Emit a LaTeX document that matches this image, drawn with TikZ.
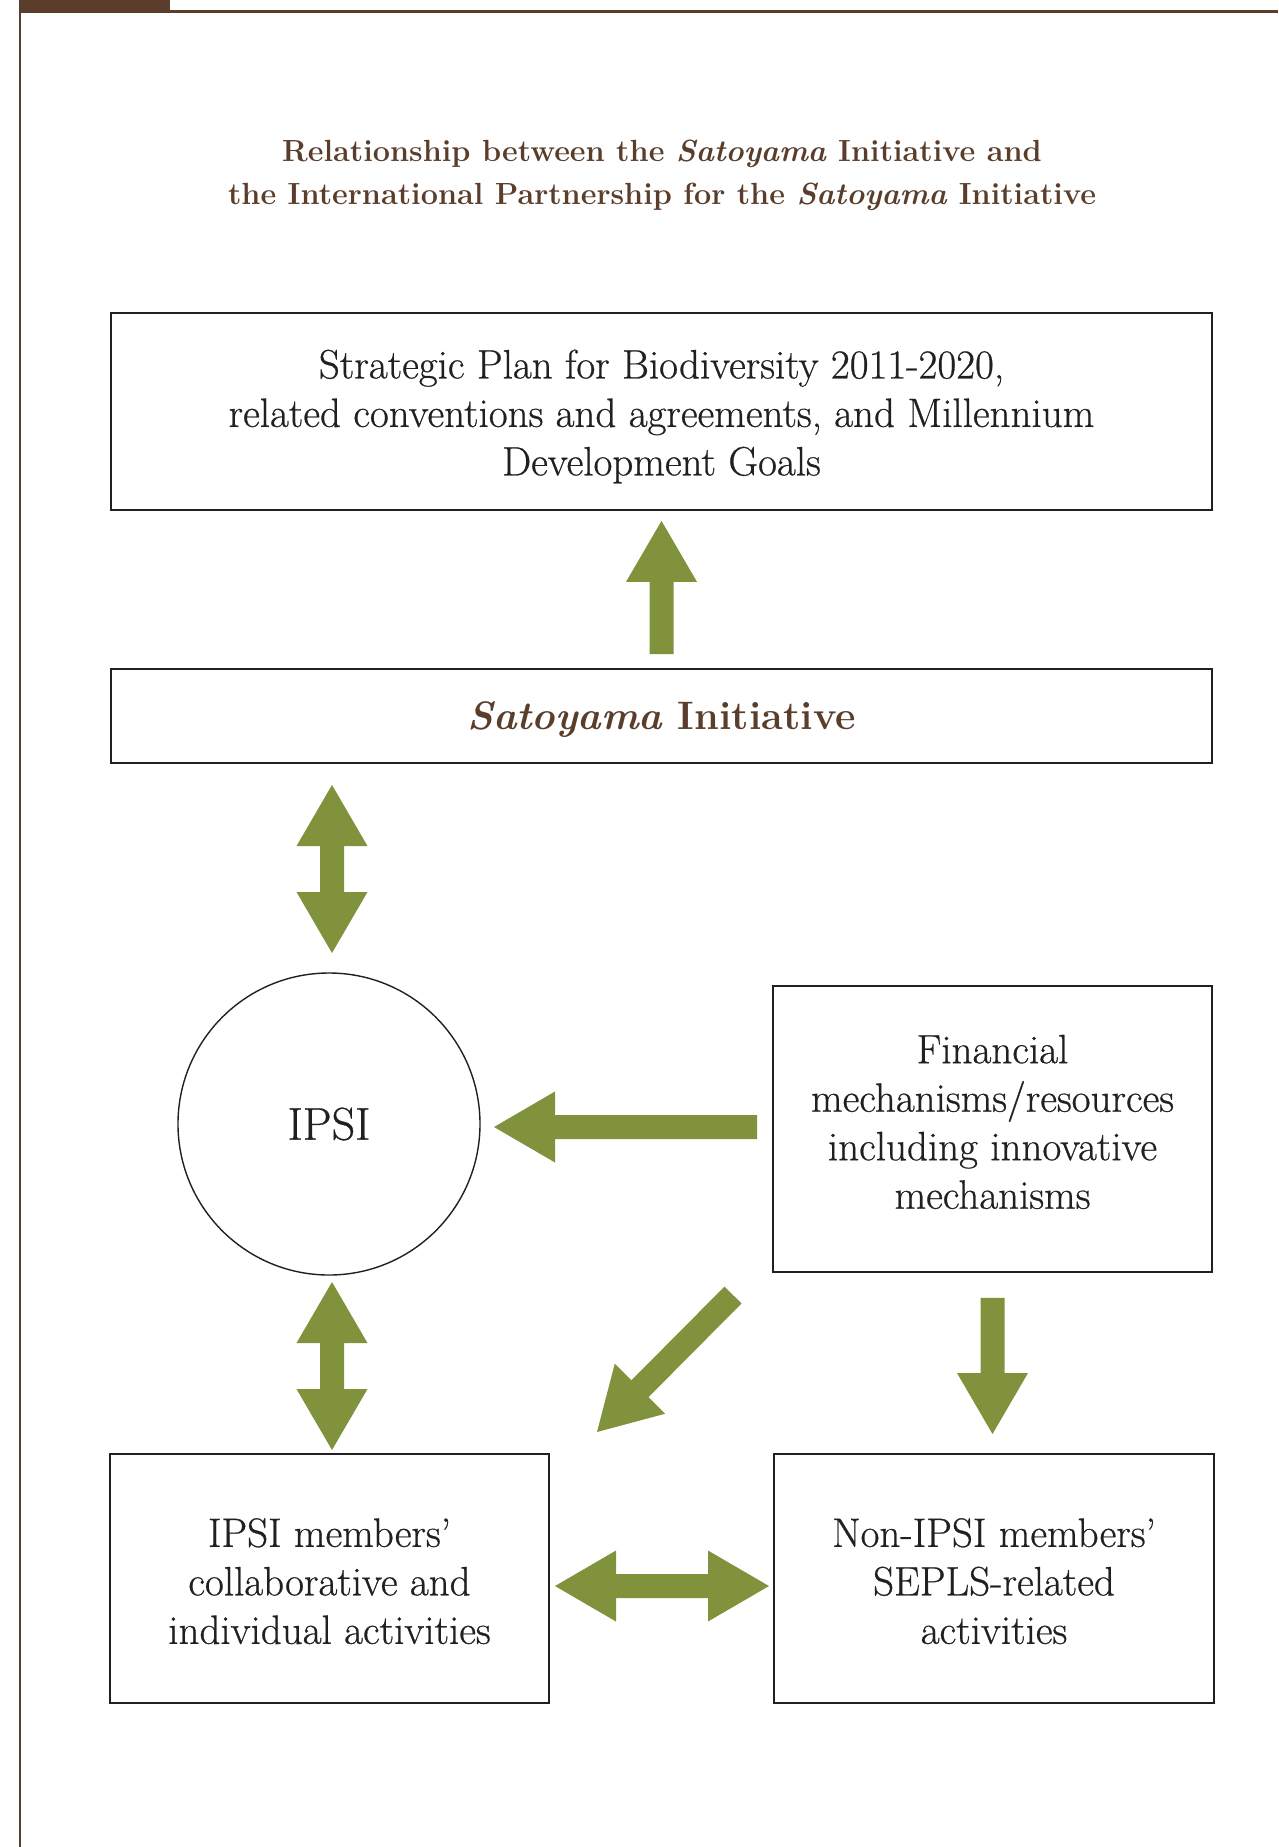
\documentclass[tikz,border=0pt]{standalone}
\usepackage{fontspec}
\setmainfont{Latin Modern Roman}
\newfontfamily\heavyfont[FakeBold=0.6]{Latin Modern Roman}
\usetikzlibrary{calc}
\definecolor{framebrown}{RGB}{90,62,43}
\definecolor{arrowgreen}{RGB}{128,146,59}
\definecolor{inkblack}{RGB}{35,31,32}
\newcommand\blkarrow[2]{%
  \coordinate (hb) at ($(#2)!61pt!(#1)$);
  \fill[arrowbody] ($(#1)!12pt!90:(#2)$) -- ($(hb)!12pt!90:(#2)$) -- ($(hb)!35.5pt!90:(#2)$)
    -- (#2) -- ($(hb)!35.5pt!-90:(#2)$) -- ($(hb)!12pt!-90:(#2)$) -- ($(#1)!12pt!-90:(#2)$) -- cycle;}
\newcommand\blkdarrow[2]{%
  \coordinate (hba) at ($(#1)!61pt!(#2)$);
  \coordinate (hbb) at ($(#2)!61pt!(#1)$);
  \fill[arrowbody] (#1) -- ($(hba)!35.5pt!90:(#2)$) -- ($(hba)!12pt!90:(#2)$)
    -- ($(hbb)!12pt!90:(#2)$) -- ($(hbb)!35.5pt!90:(#2)$) -- (#2)
    -- ($(hbb)!35.5pt!-90:(#2)$) -- ($(hbb)!12pt!-90:(#2)$)
    -- ($(hba)!12pt!-90:(#2)$) -- ($(hba)!35.5pt!-90:(#2)$) -- cycle;}
\tikzset{
  arrowbody/.style={fill=arrowgreen},
  box/.style={draw=inkblack, line width=1.8pt, inner sep=0pt, align=center,
    text=inkblack, font=\heavyfont\fontsize{41}{48.5}\selectfont},
  framerule/.style={draw=framebrown, line width=2.2pt},
}
\begin{document}
\begin{tikzpicture}[x=1pt, y=-1pt]
\useasboundingbox (0,0) rectangle (1278,1847);
% page frame
\fill[framebrown] (19,0) rectangle (170,11.5);
\draw[framerule] (20,11.5) -- (1278,11.5);
\draw[framerule] (20,11.5) -- (20,1847);
% title
\node[align=center, text=framebrown, font=\fontsize{30.6}{43}\selectfont\bfseries] (title) at (662,175.5)
  {Relationship between the \textit{Satoyama} Initiative and\\
   the International Partnership for the \textit{Satoyama} Initiative};
% boxes
\node[box, minimum width=1101, minimum height=197] (plan) at (661.5,411.5)
  {Strategic Plan for Biodiversity 2011-2020,\\
   related conventions and agreements, and Millennium\\
   Development Goals\\[-50.5pt]\mbox{}};
\node[box, minimum width=1101, minimum height=94, text depth=0pt, text=framebrown,
  font=\fontsize{39.7}{48}\selectfont\bfseries] (sat) at (661.5,716)
  {\textit{Satoyama} Initiative};
\node[box, circle, line width=1.4pt, minimum size=302, font=\heavyfont\fontsize{46}{48}\selectfont] (ipsi) at (329,1124) {IPSI};
\node[box, minimum width=439, minimum height=286] (fin) at (992.5,1129)
  {Financial\\ mechanisms/resources\\ including innovative\\ mechanisms\\[-34pt]\mbox{}};
\node[box, minimum width=439, minimum height=249] (mem) at (329.5,1578.5)
  {IPSI members’\\ collaborative and\\ individual activities\\[-53.5pt]\mbox{}};
\node[box, minimum width=440, minimum height=249] (non) at (994,1578.5)
  {Non-IPSI members’\\ SEPLS-related\\ activities\\[-53.5pt]\mbox{}};
% arrow end points
\coordinate (upA) at ($(sat.north)+(0,-14)$);
\coordinate (upB) at ($(plan.south)+(0,10)$);
\coordinate (vA) at (332,785);
\coordinate (vB) at (332,953);
\coordinate (wA) at (332,1282);
\coordinate (wB) at (332,1450);
\coordinate (lA) at ($(fin.west |- 0,1127)+(-15,0)$);
\coordinate (lB) at (494,1127);
\coordinate (hA) at (555,1586);
\coordinate (hB) at (769,1586);
\coordinate (dA) at ($(fin.south)+(0,25)$);
\coordinate (dB) at (992.5,1434);
\coordinate (gA) at (733,1295);
\coordinate (gB) at (597,1432);
% arrows
\blkarrow{upA}{upB}
\blkdarrow{vA}{vB}
\blkdarrow{wA}{wB}
\blkarrow{lA}{lB}
\blkdarrow{hA}{hB}
\blkarrow{dA}{dB}
\blkarrow{gA}{gB}
\end{tikzpicture}
\end{document}
